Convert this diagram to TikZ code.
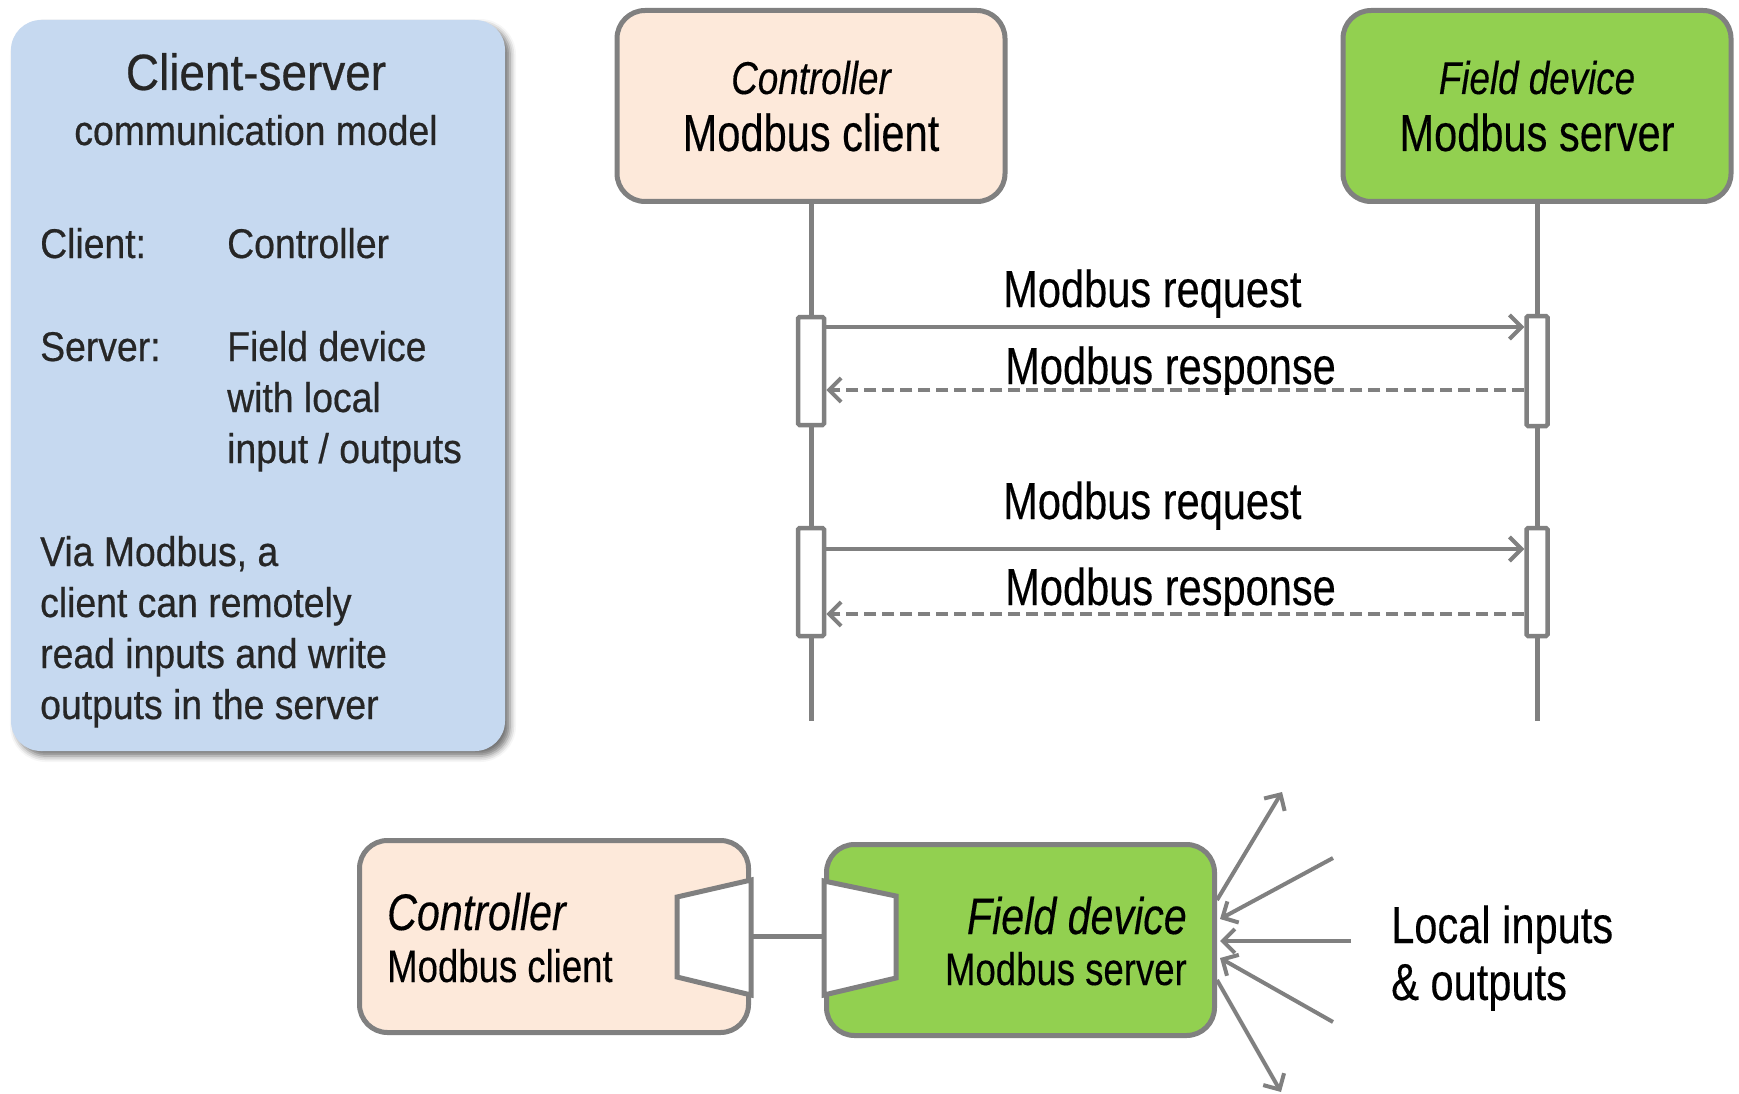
\documentclass[tikz,border=0pt]{standalone}
\usepackage{fontspec}
\setmainfont{Liberation Sans}
\newfontfamily\condfont{Liberation Sans}[FakeStretch=0.8,FakeBold=0.25]
\newfontfamily\panelfont{Liberation Sans}[FakeStretch=0.9,FakeBold=0.5]
\usetikzlibrary{arrows.meta,shadows.blur,calc}

\definecolor{panelblue}{RGB}{198,217,240}
\definecolor{peach}{RGB}{253,233,218}
\definecolor{devgreen}{RGB}{146,208,80}
\definecolor{linegray}{RGB}{128,128,128}
\definecolor{inkgray}{RGB}{38,38,38}

\tikzset{
  panel/.style={fill=panelblue, rounded corners=30pt, inner sep=0pt,
    blur shadow={shadow xshift=5pt, shadow yshift=-5pt, shadow blur radius=6pt, shadow opacity=55}},
  devbox/.style={draw=linegray, line width=5pt, rounded corners=28pt,
    minimum width=388pt, minimum height=191pt, inner sep=0pt},
  actbox/.style={draw=linegray, line width=4.5pt, fill=white, rounded corners=1.5pt, inner sep=0pt},
  lifeline/.style={draw=linegray, line width=5pt},
  msg/.style={draw=linegray, line width=4.5pt,
    -{Straight Barb[length=12pt,width=24pt,line width=4pt]}},
  reply/.style={msg, dash pattern=on 12pt off 6pt},
  plug/.style={draw=linegray, line width=5pt, fill=white, line join=miter},
  wire/.style={draw=linegray, line width=5pt},
  io/.style={draw=linegray, line width=4pt,
    -{Straight Barb[length=12pt,width=24pt,line width=4pt]}},
  ptext/.style={inner sep=0pt, text=inkgray, font=\panelfont\fontsize{41.5}{50}\selectfont},
  ctext/.style={inner sep=0pt, text=black},
}
\newcommand{\bigc}{\condfont\fontsize{52}{60}\selectfont}
\newcommand{\midc}{\condfont\fontsize{46}{54}\selectfont}

\begin{document}
\begin{tikzpicture}[x=1pt,y=-1pt]
\useasboundingbox (0,0) rectangle (1739,1094);

% ---- explanation panel ----
\node[panel, minimum width=494pt, minimum height=731pt] (panel) at (258,385.5) {};
\node[ptext, anchor=base, font=\panelfont\fontsize{51}{60}\selectfont] (ttl) at (256,90) {Client-server};
\node[ptext, anchor=base] (sub) at (256,145) {communication model};
\node[ptext, anchor=base west] (k1) at (40,258) {Client:};
\node[ptext, anchor=base west] (v1) at (227,258) {Controller};
\node[ptext, anchor=base west] (k2) at (40,361) {Server:};
\node[ptext, anchor=base west] (v2) at (227,361) {Field device};
\node[ptext, anchor=base west] (v3) at (227,412) {with local};
\node[ptext, anchor=base west] (v4) at (227,463) {input / outputs};
\node[ptext, anchor=base west] (d1) at (40,566) {Via Modbus, a};
\node[ptext, anchor=base west] (d2) at (40,617) {client can remotely};
\node[ptext, anchor=base west] (d3) at (40,668) {read inputs and write};
\node[ptext, anchor=base west] (d4) at (40,719) {outputs in the server};

% ---- sequence diagram ----
\node[devbox, fill=peach] (ctop) at (811,106) {};
\node[devbox, fill=devgreen] (ftop) at (1537,106) {};
\node[ctext, anchor=base, font=\midc\itshape] (ctopA) at (811,94) {Controller};
\node[ctext, anchor=base, font=\bigc] (ctopB) at (811,151) {Modbus client};
\node[ctext, anchor=base, font=\midc\itshape] (ftopA) at (1537,94) {Field device};
\node[ctext, anchor=base, font=\bigc] (ftopB) at (1537,151) {Modbus server};

\coordinate (cEnd) at (811,721);
\coordinate (fEnd) at (1537,721);
\draw[lifeline] (ctop.south) -- (cEnd);
\draw[lifeline] (ftop.south) -- (fEnd);

\node[actbox, minimum width=26pt, minimum height=108pt] (a1) at (811,371) {};
\node[actbox, minimum width=21pt, minimum height=110pt] (b1) at (1537,371) {};
\node[actbox, minimum width=26pt, minimum height=108pt] (a2) at (811,582) {};
\node[actbox, minimum width=21pt, minimum height=108pt] (b2) at (1537,582) {};

\coordinate (m1) at (0,327);
\coordinate (m2) at (0,390);
\coordinate (m3) at (0,549);
\coordinate (m4) at (0,614);
\draw[msg] (a1.east |- m1) -- (b1.west |- m1);
\draw[reply] (b1.west |- m2) -- (a1.east |- m2);
\draw[msg] (a2.east |- m3) -- (b2.west |- m3);
\draw[reply] (b2.west |- m4) -- (a2.east |- m4);

\node[ctext, anchor=base west, font=\bigc] (q1) at (1003,307) {Modbus request};
\node[ctext, anchor=base west, font=\bigc] (r1) at (1005,384) {Modbus response};
\node[ctext, anchor=base west, font=\bigc] (q2) at (1003,519) {Modbus request};
\node[ctext, anchor=base west, font=\bigc] (r2) at (1005,605) {Modbus response};

% ---- physical connection ----
\node[devbox, fill=peach, minimum width=389pt, minimum height=192pt] (cbot) at (554,936.5) {};
\node[devbox, fill=devgreen, minimum width=388pt, minimum height=191pt] (fbot) at (1020.5,940) {};
\draw[plug] ($(cbot.east)+(0,-56.5)$) -- ++(-74,17) -- ++(0,80) -- ($(cbot.east)+(0,58.5)$) -- cycle;
\draw[plug] ($(fbot.west)+(0,-59)$) -- ++(72,15) -- ++(0,82) -- ($(fbot.west)+(0,55)$) -- cycle;
\draw[wire] (cbot.east) -- (cbot.east -| fbot.west);

\node[ctext, anchor=base west, font=\condfont\fontsize{51.5}{60}\selectfont\itshape] (cbotA) at (387,930) {Controller};
\node[ctext, anchor=base west, font=\condfont\fontsize{45.7}{54}\selectfont] (cbotB) at (387,982) {Modbus client};
\node[ctext, anchor=base east, font=\condfont\fontsize{51.5}{60}\selectfont\itshape] (fbotA) at (1187,934) {Field device};
\node[ctext, anchor=base east, font=\condfont\fontsize{45.7}{54}\selectfont] (fbotB) at (1187,985) {Modbus server};

% local inputs and outputs
\coordinate (o1) at (1282,792);
\coordinate (i1) at (1333,858);
\coordinate (i2) at (1351,941);
\coordinate (i3) at (1333,1022);
\coordinate (o2) at (1281,1092);
\draw[io] ($(fbot.east)+(0,-40)$) -- (o1);
\draw[io] (i1) -- ($(fbot.east)+(3,-21)$);
\draw[io] (i2) -- ($(fbot.east)+(3,1)$);
\draw[io] (i3) -- ($(fbot.east)+(3,18)$);
\draw[io] ($(fbot.east)+(0,40)$) -- (o2);

\node[ctext, anchor=base west, font=\bigc] (loc1) at (1391,943) {Local inputs};
\node[ctext, anchor=base west, font=\bigc] (loc2) at (1391,1000) {\& outputs};
\end{tikzpicture}
\end{document}
